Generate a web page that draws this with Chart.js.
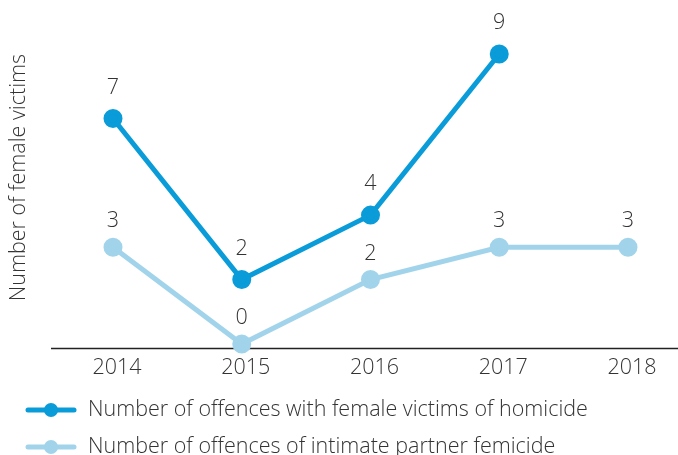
<!DOCTYPE html>
<html>
<head>
<meta charset="utf-8">
<script src="https://cdn.jsdelivr.net/npm/chart.js@4.4.0/dist/chart.umd.min.js"></script>
<style>
  html, body { margin: 0; padding: 0; background: #fff; }
  #wrap { width: 678px; height: 455px; position: relative; }
</style>
</head>
<body>
<div id="wrap"><canvas id="chart"></canvas></div>
<script>
const years = ['2014', '2015', '2016', '2017', '2018'];
const homicideVictims = [7, 2, 4, 9, null];
const partnerFemicide = [3, 0, 2, 3, 3];
const seriesNames = [
  'Number of offences with female victims of homicide',
  'Number of offences of intimate partner femicide',
];
const axisTitle = 'Number of female victims';

const FONT = "'Open Sans', 'Noto Sans', sans-serif";
const darkBlue = '#0a9bd9';
const lightBlue = '#a1d4eb';
const textColor = '#333333';
const labelGap = [31, 26];

// value labels above every point
const pointLabels = {
  id: 'pointLabels',
  afterDatasetsDraw(chart) {
    const { ctx } = chart;
    ctx.save();
    ctx.font = `300 21.5px ${FONT}`;
    ctx.fillStyle = textColor;
    ctx.textAlign = 'center';
    ctx.textBaseline = 'middle';
    chart.data.datasets.forEach((ds, i) => {
      chart.getDatasetMeta(i).data.forEach((pt, j) => {
        if (ds.data[j] === null) return;
        ctx.fillText(String(ds.data[j]), pt.x, pt.y - labelGap[i]);
      });
    });
    ctx.restore();
  },
};

// baseline under the plot, wider than the plot area
const baseline = {
  id: 'baseline',
  beforeDatasetsDraw(chart) {
    const { ctx, chartArea } = chart;
    ctx.save();
    ctx.strokeStyle = '#222';
    ctx.lineWidth = 1.5;
    ctx.beginPath();
    ctx.moveTo(51, chartArea.bottom + 4.5);
    ctx.lineTo(chart.width, chartArea.bottom + 4.5);
    ctx.stroke();
    ctx.restore();
  },
};

// legend: line with a dot, like the original
const lineLegend = {
  id: 'lineLegend',
  afterDraw(chart) {
    const { ctx } = chart;
    const rows = [410, 447];
    ctx.save();
    chart.data.datasets.forEach((ds, i) => {
      const y = rows[i];
      ctx.strokeStyle = ds.borderColor;
      ctx.lineWidth = 5;
      ctx.lineCap = 'round';
      ctx.beginPath();
      ctx.moveTo(28, y);
      ctx.lineTo(74, y);
      ctx.stroke();
      ctx.fillStyle = ds.borderColor;
      ctx.beginPath();
      ctx.arc(51, y, 7, 0, Math.PI * 2);
      ctx.fill();
      ctx.font = `300 21.5px ${FONT}`;
      ctx.fillStyle = textColor;
      ctx.textAlign = 'left';
      ctx.textBaseline = 'middle';
      ctx.fillText(ds.label, 88, y);
    });
    ctx.restore();
  },
};

new Chart(document.getElementById('chart'), {
  type: 'line',
  data: {
    labels: years,
    datasets: [
      {
        label: seriesNames[0],
        data: homicideVictims,
        borderColor: darkBlue,
        backgroundColor: darkBlue,
        borderWidth: 5,
        pointRadius: 7,
        pointHoverRadius: 7,
        tension: 0,
        clip: false,
      },
      {
        label: seriesNames[1],
        data: partnerFemicide,
        borderColor: lightBlue,
        backgroundColor: lightBlue,
        borderWidth: 5,
        pointRadius: 7,
        pointHoverRadius: 7,
        tension: 0,
        clip: false,
      },
    ],
  },
  options: {
    responsive: true,
    maintainAspectRatio: false,
    animation: false,
    layout: { padding: { top: 54, right: 50, bottom: 71, left: 0 } },
    plugins: {
      legend: { display: false },
      tooltip: { enabled: false },
    },
    scales: {
      x: {
        offset: false,
        grid: { display: false, drawTicks: false },
        border: { display: false },
        ticks: {
          padding: 11,
          labelOffset: 4,
          color: textColor,
          font: { family: FONT, size: 21.5, weight: 300 },
        },
        afterFit(scale) { scale.height = 40; },
      },
      y: {
        min: 0,
        max: 9,
        grid: { display: false, drawTicks: false },
        border: { display: false },
        ticks: { display: false },
        title: {
          display: true,
          text: axisTitle,
          align: 'end',
          color: textColor,
          font: { family: FONT, size: 21.5, weight: 300 },
          padding: { top: 6, bottom: 0 },
        },
        afterFit(scale) { scale.width = 113; },
      },
    },
  },
  plugins: [baseline, pointLabels, lineLegend],
});
</script>
</body>
</html>
